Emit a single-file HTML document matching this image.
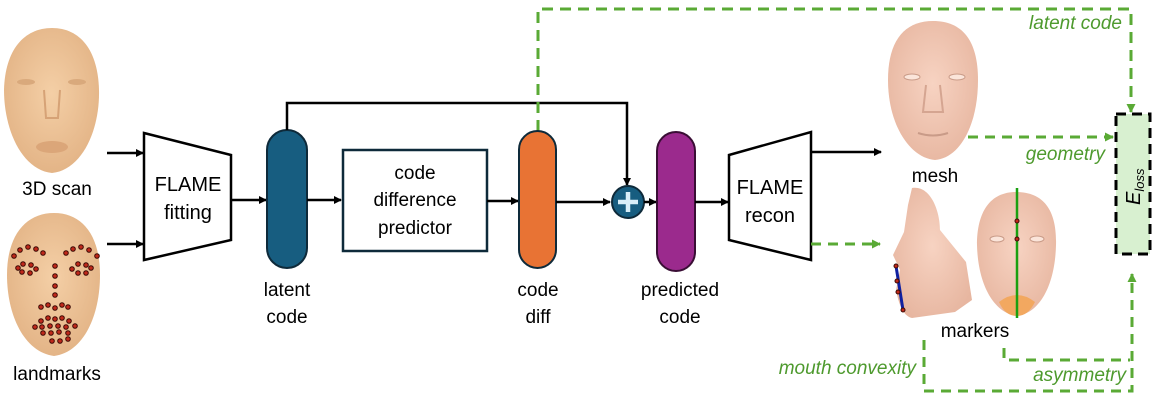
<!DOCTYPE html>
<html><head><meta charset="utf-8"><style>
html,body{margin:0;padding:0;background:#fff;}
svg{display:block;font-family:"Liberation Sans",sans-serif;}
</style></head><body>
<svg width="1162" height="414" viewBox="0 0 1162 414" xmlns="http://www.w3.org/2000/svg">
<defs>
<marker id="ab" markerWidth="8" markerHeight="8" refX="7" refY="4" orient="auto" markerUnits="userSpaceOnUse"><path d="M0,0 L8,4 L0,8 z" fill="#000"/></marker>
<marker id="ag" markerWidth="9" markerHeight="9" refX="8" refY="4.5" orient="auto" markerUnits="userSpaceOnUse"><path d="M0,0 L9,4.5 L0,9 z" fill="#5aaa35"/></marker>
<radialGradient id="skin" cx="50%" cy="45%" r="60%"><stop offset="0" stop-color="#f4cfa6"/><stop offset="1" stop-color="#e2b284"/></radialGradient>
<radialGradient id="mesh" cx="50%" cy="45%" r="60%"><stop offset="0" stop-color="#f7d3c2"/><stop offset="1" stop-color="#e7b6a0"/></radialGradient>
</defs>

<!-- 3D scan face -->
<path d="M52,28 C80,28 98,50 99,90 C100,130 82,170 52,173 C22,170 4,130 4,90 C5,50 24,28 52,28 z" fill="url(#skin)"/>
<ellipse cx="26" cy="82" rx="9" ry="3" fill="#d9a97c"/><ellipse cx="77" cy="82" rx="9" ry="3" fill="#d9a97c"/>
<path d="M44,90 L46,118 L58,118 L60,90" fill="none" stroke="#d6a276" stroke-width="2"/>
<ellipse cx="52" cy="147" rx="16" ry="6" fill="#dba679"/>
<text x="57" y="195" font-size="19" text-anchor="middle">3D scan</text>

<!-- landmarks face -->
<path d="M54,213 C82,213 100,235 100,275 C100,315 84,352 54,356 C24,352 7,315 7,275 C7,235 26,213 54,213 z" fill="url(#skin)"/>
<g fill="#c0281a" stroke="#3a0a05" stroke-width="1">
<circle cx="14" cy="256" r="2.3"/><circle cx="20" cy="250" r="2.3"/><circle cx="28" cy="247" r="2.3"/><circle cx="36" cy="249" r="2.3"/><circle cx="43" cy="253" r="2.3"/>
<circle cx="66" cy="253" r="2.3"/><circle cx="73" cy="249" r="2.3"/><circle cx="81" cy="247" r="2.3"/><circle cx="89" cy="250" r="2.3"/><circle cx="97" cy="256" r="2.3"/>
<circle cx="18" cy="268" r="2.3"/><circle cx="23" cy="264" r="2.3"/><circle cx="31" cy="265" r="2.3"/><circle cx="36" cy="269" r="2.3"/><circle cx="30" cy="273" r="2.3"/><circle cx="22" cy="272" r="2.3"/>
<circle cx="72" cy="269" r="2.3"/><circle cx="78" cy="264" r="2.3"/><circle cx="86" cy="265" r="2.3"/><circle cx="91" cy="268" r="2.3"/><circle cx="86" cy="273" r="2.3"/><circle cx="78" cy="273" r="2.3"/>
<circle cx="55" cy="266" r="2.3"/><circle cx="55" cy="276" r="2.3"/><circle cx="55" cy="286" r="2.3"/><circle cx="55" cy="295" r="2.3"/>
<circle cx="41" cy="307" r="2.3"/><circle cx="48" cy="305" r="2.3"/><circle cx="55" cy="308" r="2.3"/><circle cx="62" cy="305" r="2.3"/><circle cx="68" cy="307" r="2.3"/>
<circle cx="35" cy="327" r="2.3"/><circle cx="41" cy="321" r="2.3"/><circle cx="48" cy="318" r="2.3"/><circle cx="55" cy="319" r="2.3"/><circle cx="62" cy="318" r="2.3"/><circle cx="69" cy="321" r="2.3"/><circle cx="75" cy="326" r="2.3"/>
<circle cx="42" cy="327" r="2.3"/><circle cx="50" cy="326" r="2.3"/><circle cx="58" cy="326" r="2.3"/><circle cx="66" cy="327" r="2.3"/>
<circle cx="43" cy="333" r="2.3"/><circle cx="51" cy="333" r="2.3"/><circle cx="59" cy="332" r="2.3"/><circle cx="68" cy="333" r="2.3"/>
<circle cx="52" cy="341" r="2.3"/><circle cx="60" cy="341" r="2.3"/><circle cx="68" cy="339" r="2.3"/>
</g>
<text x="57" y="380" font-size="19" text-anchor="middle">landmarks</text>

<!-- input arrows -->
<line x1="107" y1="153" x2="143" y2="153" stroke="#000" stroke-width="2.5" marker-end="url(#ab)"/>
<line x1="107" y1="244" x2="143" y2="244" stroke="#000" stroke-width="2.5" marker-end="url(#ab)"/>

<!-- FLAME fitting -->
<path d="M144,133 L231,155 L231,240 L144,260 z" fill="#fff" stroke="#000" stroke-width="2.5"/>
<text x="188" y="191" font-size="20" text-anchor="middle">FLAME</text>
<text x="188" y="219" font-size="20" text-anchor="middle">fitting</text>
<line x1="231" y1="200" x2="266" y2="200" stroke="#000" stroke-width="2.5" marker-end="url(#ab)"/>

<!-- latent code pill -->
<rect x="267" y="130" width="40" height="138" rx="20" fill="#175d80" stroke="#0e2a3a" stroke-width="2"/>
<text x="287" y="296" font-size="19" text-anchor="middle">latent</text>
<text x="287" y="323" font-size="19" text-anchor="middle">code</text>

<!-- skip connection -->
<polyline points="287,130 287,103 627,103 627,185" fill="none" stroke="#000" stroke-width="2.5" marker-end="url(#ab)"/>

<line x1="307" y1="200" x2="341" y2="200" stroke="#000" stroke-width="2.5" marker-end="url(#ab)"/>
<rect x="343" y="150" width="144" height="101" fill="#fff" stroke="#0e2a3a" stroke-width="2.5"/>
<text x="415" y="179" font-size="19" text-anchor="middle">code</text>
<text x="415" y="206" font-size="19" text-anchor="middle">difference</text>
<text x="415" y="234" font-size="19" text-anchor="middle">predictor</text>
<line x1="487" y1="201" x2="518" y2="201" stroke="#000" stroke-width="2.5" marker-end="url(#ab)"/>

<!-- green latent code dashed -->
<polyline points="538,131 538,9 1131,9 1131,112" fill="none" stroke="#5aaa35" stroke-width="3" stroke-dasharray="11,7" marker-end="url(#ag)"/>

<!-- code diff -->
<rect x="519" y="131" width="37" height="137" rx="18.5" fill="#e87334" stroke="#0e2a3a" stroke-width="2"/>
<text x="538" y="296" font-size="19" text-anchor="middle">code</text>
<text x="538" y="323" font-size="19" text-anchor="middle">diff</text>
<line x1="556" y1="202" x2="610" y2="202" stroke="#000" stroke-width="2.5" marker-end="url(#ab)"/>

<!-- plus -->
<circle cx="628" cy="202" r="16" fill="#175d80" stroke="#0e2a3a" stroke-width="2"/>
<path d="M628,192 V212 M618,202 H638" stroke="#d8eef8" stroke-width="4.5"/>
<line x1="644" y1="202" x2="656" y2="202" stroke="#000" stroke-width="2.5" marker-end="url(#ab)"/>

<!-- predicted code -->
<rect x="657" y="132" width="38" height="139" rx="19" fill="#9b2a8d" stroke="#3a0e35" stroke-width="2"/>
<text x="680" y="296" font-size="19" text-anchor="middle">predicted</text>
<text x="680" y="323" font-size="19" text-anchor="middle">code</text>
<line x1="695" y1="202" x2="728" y2="202" stroke="#000" stroke-width="2.5" marker-end="url(#ab)"/>

<!-- FLAME recon -->
<path d="M729,155 L811,132 L811,260 L729,240 z" fill="#fff" stroke="#000" stroke-width="2.5"/>
<text x="770" y="194" font-size="20" text-anchor="middle">FLAME</text>
<text x="770" y="222" font-size="20" text-anchor="middle">recon</text>
<line x1="811" y1="152" x2="881" y2="152" stroke="#000" stroke-width="2.5" marker-end="url(#ab)"/>
<line x1="811" y1="244" x2="880" y2="244" stroke="#5aaa35" stroke-width="3" stroke-dasharray="10,7" marker-end="url(#ag)"/>

<!-- mesh face -->
<path d="M933,21 C962,21 978,40 978,80 C978,125 960,158 935,160 C910,158 888,125 888,80 C888,40 905,21 933,21 z" fill="url(#mesh)"/>
<ellipse cx="912" cy="77" rx="8" ry="3" fill="#fbe5da" stroke="#c99b88"/><ellipse cx="957" cy="77" rx="8" ry="3" fill="#fbe5da" stroke="#c99b88"/>
<path d="M926,85 L923,112 L943,112 L940,85" fill="none" stroke="#d5a591" stroke-width="2"/>
<path d="M918,133 Q933,138 948,133" fill="none" stroke="#c99b88" stroke-width="2"/>
<text x="935" y="182" font-size="19" text-anchor="middle">mesh</text>

<!-- geometry -->
<line x1="968" y1="137" x2="1113" y2="137" stroke="#5aaa35" stroke-width="3" stroke-dasharray="10,7" marker-end="url(#ag)"/>
<text x="1105" y="160" font-size="19" font-style="italic" fill="#4e9a2e" text-anchor="end">geometry</text>
<text x="1122" y="29" font-size="19" font-style="italic" fill="#4e9a2e" text-anchor="end">latent code</text>

<!-- Eloss -->
<rect x="1116" y="114" width="34" height="140" fill="#d8f0d0" stroke="#000" stroke-width="3" stroke-dasharray="10,6"/>
<text transform="translate(1140,205) rotate(-90)" font-size="20" font-style="italic">E<tspan font-size="13" dy="4">loss</tspan></text>

<!-- side face -->
<path d="M912,188 C930,185 940,210 940,230 L966,262 L972,300 L955,312 L912,318 C902,316 898,300 896,290 L900,270 L893,255 L904,232 L908,205 z" fill="url(#mesh)"/>
<line x1="896" y1="266" x2="903" y2="310" stroke="#1020a0" stroke-width="3"/>
<g fill="#c0281a" stroke="#3a0a05"><circle cx="896" cy="266" r="2"/><circle cx="897" cy="281" r="2"/><circle cx="898" cy="292" r="2"/><circle cx="903" cy="310" r="2"/></g>

<!-- front face -->
<path d="M1016,192 C1045,192 1057,212 1056,245 C1055,285 1040,313 1017,316 C994,313 978,285 977,245 C977,212 990,192 1016,192 z" fill="url(#mesh)"/>
<path d="M999,302 Q1017,288 1035,302 Q1028,316 1017,316 Q1005,316 999,302 z" fill="#f2a860"/>
<ellipse cx="997" cy="239" rx="7" ry="3" fill="#fbe5da" stroke="#c99b88"/><ellipse cx="1037" cy="239" rx="7" ry="3" fill="#fbe5da" stroke="#c99b88"/>
<line x1="1017" y1="188" x2="1017" y2="318" stroke="#1aa010" stroke-width="2.5"/>
<circle cx="1017" cy="221" r="2" fill="#c0281a" stroke="#3a0a05"/><circle cx="1017" cy="239" r="2" fill="#c0281a" stroke="#3a0a05"/>
<text x="975" y="337" font-size="19" text-anchor="middle">markers</text>

<!-- bottom dashed -->
<polyline points="924,340 924,391 1132,391 1132,274" fill="none" stroke="#5aaa35" stroke-width="3" stroke-dasharray="10,7" marker-end="url(#ag)"/>
<polyline points="1004,348 1004,360 1130,360" fill="none" stroke="#5aaa35" stroke-width="3" stroke-dasharray="10,7"/>
<text x="916" y="374" font-size="19" font-style="italic" fill="#4e9a2e" text-anchor="end">mouth convexity</text>
<text x="1126" y="381" font-size="19" font-style="italic" fill="#4e9a2e" text-anchor="end">asymmetry</text>
</svg>
</body></html>
